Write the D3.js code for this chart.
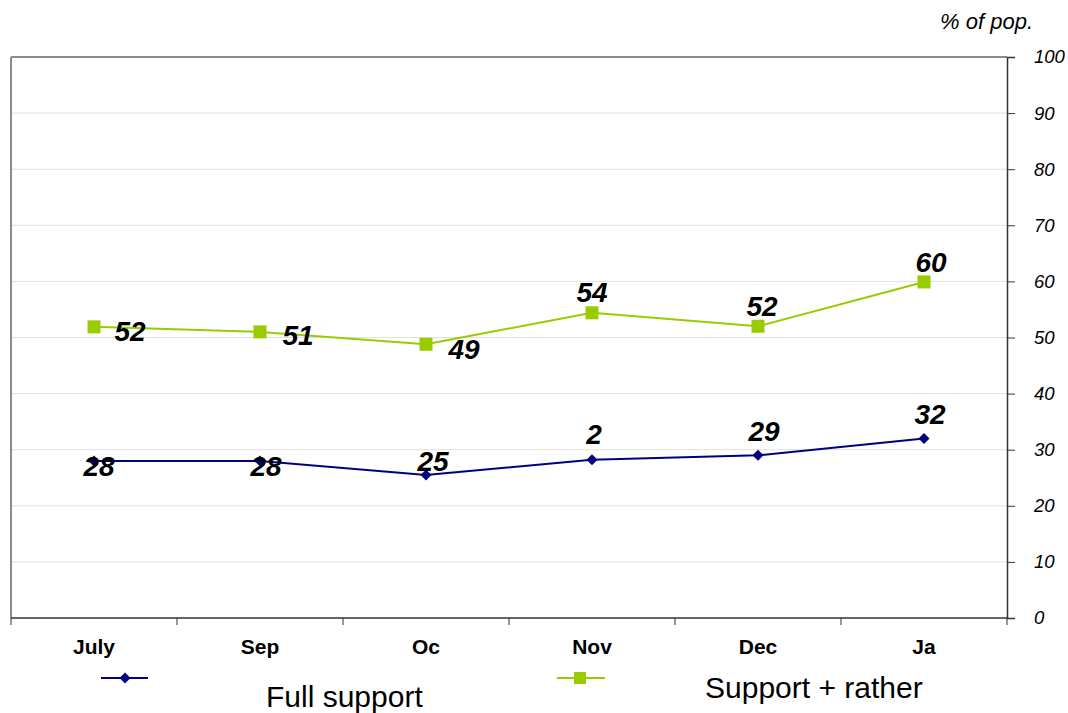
<!DOCTYPE html>
<html><head><meta charset="utf-8">
<script src="https://cdn.jsdelivr.net/npm/d3@7/dist/d3.min.js"></script>
<style>body{margin:0;background:#fff;}svg{display:block;font-family:"Liberation Sans",Arial,sans-serif;}</style>
</head><body><svg id="c" width="1068" height="713"></svg>
<script>
const categories = ["July","Sep","Oc","Nov","Dec","Ja"];
const fullSupport = [28,28,25.5,28.2,29,32];
const fullSupportLabels = ["28","28","25","2","29","32"];
const supportRather = [51.9,51,48.8,54.4,52,59.9];
const supportRatherLabels = ["52","51","49","54","52","60"];
const yTicks = [0,10,20,30,40,50,60,70,80,90,100];

const svg = d3.select("#c");
const L=11, R=1007, T=57, B=618;
const x = d3.scaleBand().domain(categories).range([L,R]);
const y = d3.scaleLinear().domain([0,100]).range([B,T]);
const cx = d => x(d)+x.bandwidth()/2;

// gridlines
svg.append("g").selectAll("line").data(yTicks.filter(t=>t>0&&t<100)).join("line")
  .attr("x1",L).attr("x2",R).attr("y1",d=>y(d)).attr("y2",d=>y(d))
  .attr("stroke","#e0e0e0").attr("stroke-width",1);
// frame top and left
svg.append("line").attr("x1",L).attr("x2",R).attr("y1",T).attr("y2",T).attr("stroke","#8c8c8c").attr("stroke-width",2);
svg.append("line").attr("x1",L).attr("x2",L).attr("y1",T).attr("y2",B).attr("stroke","#8c8c8c").attr("stroke-width",2);

// right axis
const yAx = svg.append("g").attr("transform",`translate(${R},0)`)
  .call(d3.axisRight(y).tickValues(yTicks).tickSize(8).tickPadding(19));
yAx.select(".domain").attr("stroke","#333").attr("stroke-width",1.5);
yAx.selectAll(".tick line").attr("stroke","#333");
yAx.selectAll("text").attr("font-size",18.5).attr("font-style","italic").attr("fill","#000")
  .attr("font-family","Liberation Sans, Arial, sans-serif");

// bottom axis
const xAx = svg.append("g").attr("transform",`translate(0,${B})`);
xAx.append("line").attr("x1",L).attr("x2",R).attr("stroke","#333").attr("stroke-width",1.5);
xAx.selectAll("line.tk").data(d3.range(categories.length+1)).join("line").attr("class","tk")
  .attr("x1",i=>L+i*x.bandwidth()).attr("x2",i=>L+i*x.bandwidth()).attr("y1",0).attr("y2",7).attr("stroke","#333");
xAx.selectAll("text").data(categories).join("text")
  .attr("x",d=>cx(d)).attr("y",36).attr("text-anchor","middle")
  .attr("font-size",21).attr("font-weight","bold").text(d=>d);

// lines
const line = d3.line().x((d,i)=>cx(categories[i])).y(d=>y(d));
svg.append("path").datum(supportRather).attr("d",line).attr("fill","none").attr("stroke","#99cc00").attr("stroke-width",2);
svg.append("path").datum(fullSupport).attr("d",line).attr("fill","none").attr("stroke","#000080").attr("stroke-width",2);

// markers
svg.append("g").selectAll("rect").data(supportRather).join("rect")
  .attr("x",(d,i)=>cx(categories[i])-6.5).attr("y",d=>y(d)-6.5).attr("width",13).attr("height",13).attr("fill","#99cc00");
const diamond = "M0,-5.5L5.5,0L0,5.5L-5.5,0Z";
svg.append("g").selectAll("path").data(fullSupport).join("path")
  .attr("d",diamond).attr("transform",(d,i)=>`translate(${cx(categories[i])},${y(d)})`).attr("fill","#000080");

// labels
const srOff = [[36,14],[38,13],[38,15],[0,-11],[4,-10],[7,-10]];
svg.append("g").selectAll("text").data(supportRather).join("text")
  .attr("x",(d,i)=>cx(categories[i])+srOff[i][0]).attr("y",(d,i)=>y(d)+srOff[i][1])
  .attr("text-anchor","middle").attr("font-size",28).attr("font-weight","bold").attr("font-style","italic")
  .text((d,i)=>supportRatherLabels[i]);
const fsOff = [[5,15],[6,15],[7,-4],[2,-16],[6,-14],[6,-14]];
svg.append("g").selectAll("text").data(fullSupport).join("text")
  .attr("x",(d,i)=>cx(categories[i])+fsOff[i][0]).attr("y",(d,i)=>y(d)+fsOff[i][1])
  .attr("text-anchor","middle").attr("font-size",28).attr("font-weight","bold").attr("font-style","italic")
  .text((d,i)=>fullSupportLabels[i]);

// unit
svg.append("text").attr("x",1033).attr("y",29).attr("text-anchor","end").attr("font-size",22).attr("font-style","italic").text("% of pop.");

// legend
const lg = svg.append("g");
lg.append("line").attr("x1",101).attr("x2",148).attr("y1",678).attr("y2",678).attr("stroke","#000080").attr("stroke-width",2);
lg.append("path").attr("d",diamond).attr("transform","translate(125,678)").attr("fill","#000080");
lg.append("text").attr("x",266).attr("y",707).attr("font-size",30).text("Full support");
lg.append("line").attr("x1",557).attr("x2",605).attr("y1",678).attr("y2",678).attr("stroke","#99cc00").attr("stroke-width",2);
lg.append("rect").attr("x",574).attr("y",672).attr("width",12).attr("height",12).attr("fill","#99cc00");
lg.append("text").attr("x",705).attr("y",698).attr("font-size",30).text("Support + rather");
</script></body></html>
